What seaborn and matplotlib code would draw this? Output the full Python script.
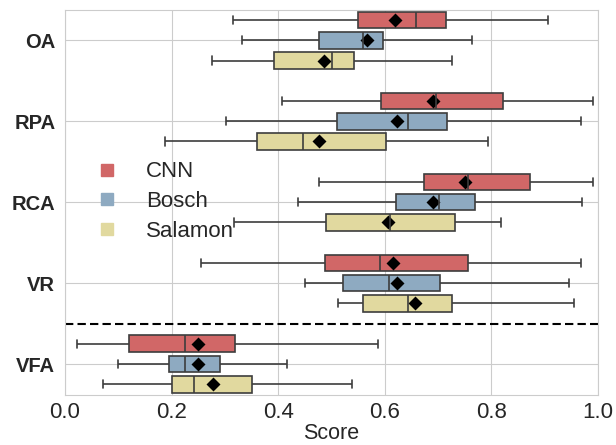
import numpy as np
import pandas as pd
import seaborn as sns
from matplotlib import pyplot as plt
from matplotlib.lines import Line2D

# five-number summaries (whisker low, Q1, median, Q3, whisker high)
metrics = ["OA", "RPA", "RCA", "VR", "VFA"]
models = ["CNN", "Bosch", "Salamon"]

cnn_low = [0.315, 0.407, 0.476, 0.255, 0.022]
cnn_q1 = [0.550, 0.593, 0.673, 0.488, 0.120]
cnn_med = [0.659, 0.696, 0.756, 0.591, 0.226]
cnn_q3 = [0.715, 0.822, 0.872, 0.756, 0.319]
cnn_high = [0.906, 0.990, 0.990, 0.968, 0.587]
cnn_mean = [0.619, 0.691, 0.750, 0.616, 0.249]

bosch_low = [0.333, 0.303, 0.438, 0.450, 0.100]
bosch_q1 = [0.476, 0.510, 0.621, 0.522, 0.195]
bosch_med = [0.559, 0.643, 0.701, 0.607, 0.226]
bosch_q3 = [0.597, 0.717, 0.770, 0.704, 0.291]
bosch_high = [0.764, 0.969, 0.970, 0.945, 0.416]
bosch_mean = [0.566, 0.623, 0.691, 0.623, 0.249]

sal_low = [0.275, 0.188, 0.318, 0.513, 0.071]
sal_q1 = [0.392, 0.360, 0.490, 0.560, 0.201]
sal_med = [0.501, 0.446, 0.609, 0.643, 0.242]
sal_q3 = [0.542, 0.602, 0.731, 0.727, 0.351]
sal_high = [0.727, 0.794, 0.818, 0.955, 0.539]
sal_mean = [0.486, 0.476, 0.606, 0.657, 0.278]

colors = ["#d16767", "#8eaac1", "#e1d99f"]

summ = {
    "CNN": (cnn_low, cnn_q1, cnn_med, cnn_q3, cnn_high, cnn_mean),
    "Bosch": (bosch_low, bosch_q1, bosch_med, bosch_q3, bosch_high, bosch_mean),
    "Salamon": (sal_low, sal_q1, sal_med, sal_q3, sal_high, sal_mean),
}

rows = []
mean_rows = []
for m in models:
    lo, q1, med, q3, hi, mn = summ[m]
    for i, met in enumerate(metrics):
        for v in (lo[i], q1[i], med[i], q3[i], hi[i]):
            rows.append({"Metric": met, "Model": m, "Score": v})
        mean_rows.append({"Metric": met, "Model": m, "Score": mn[i]})
df = pd.DataFrame(rows)
means = pd.DataFrame(mean_rows)

sns.set_style("whitegrid")
plt.rcParams["font.family"] = ["Liberation Sans", "DejaVu Sans"]

fig = plt.figure(figsize=(6.16, 4.45), dpi=100)
ax = fig.add_axes([65/616, 1-395/445, (598-65)/616, (395-10)/445])

sns.boxplot(data=df, x="Score", y="Metric", hue="Model", order=metrics, hue_order=models,
            palette=colors, saturation=1, whis=(0, 100), width=0.75, gap=0.18,
            linecolor="#3d3d3d", linewidth=1.2, showfliers=False, legend=False, ax=ax)
sns.pointplot(data=means, x="Score", y="Metric", hue="Model", order=metrics, hue_order=models,
              palette=["black"]*3, dodge=0.5, linestyle="none", markers="D",
              markersize=4.8, errorbar=None, legend=False, ax=ax)

ax.axhline(3.5, color="black", ls="--", lw=1.5, dashes=(4, 2))
ax.set_xlim(0, 1)
ax.set_ylim(4.383, -0.375)
ax.yaxis.grid(True)
ax.set_axisbelow(True)
ax.set_xticks([0, 0.2, 0.4, 0.6, 0.8, 1.0])
ax.set_xticklabels(["0.0", "0.2", "0.4", "0.6", "0.8", "1.0"], fontsize=16)
ax.set_yticklabels(metrics, fontsize=14.5, fontweight="bold")
ax.set_xlabel("Score", fontsize=15.5, labelpad=0)
ax.set_ylabel("")
ax.tick_params(axis="x", length=0, pad=5)
ax.tick_params(axis="y", length=0, pad=7)

handles = [Line2D([], [], marker="s", ls="none", markersize=9, color=c) for c in colors]
ax.legend(handles, models, loc="center left", bbox_to_anchor=(0.0, 0.502), frameon=False,
          fontsize=16, handletextpad=0.75, labelspacing=0.4)

plt.savefig("out.png", dpi=100)
